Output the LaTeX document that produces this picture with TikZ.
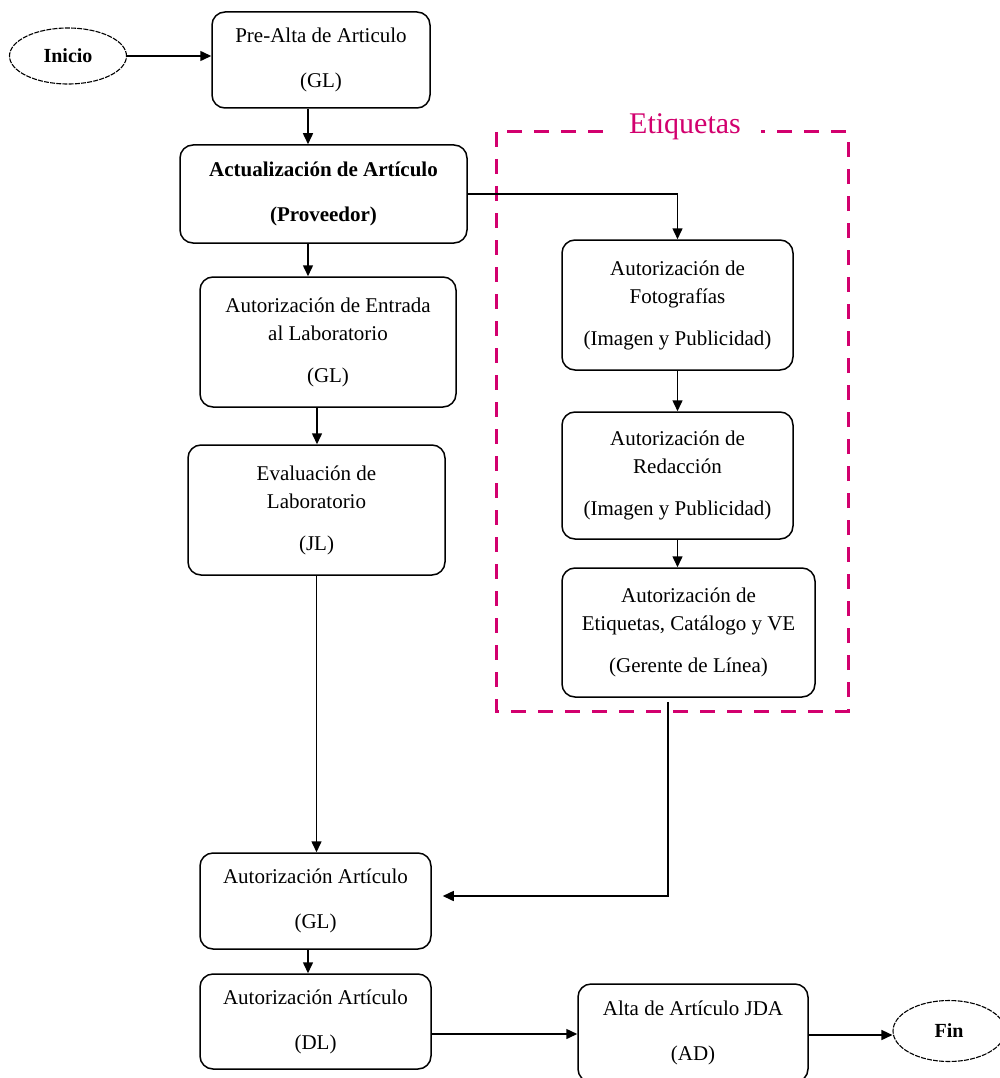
\documentclass[tikz,border=0pt]{standalone}
\usepackage{fontspec}
\setmainfont{Liberation Serif}
\usetikzlibrary{arrows.meta,shapes.geometric}
\definecolor{etqmag}{RGB}{210,0,110}
\begin{document}
\begin{tikzpicture}[x=1pt,y=1pt,
  proc/.style={draw, line width=1.5pt, rounded corners=13pt, align=center,
    inner sep=0pt, font=\fontsize{21}{28}\selectfont},
  term/.style={draw, ellipse, line width=1.1pt, dash pattern=on 5pt off 1.2pt,
    inner sep=0pt, font=\bfseries\fontsize{20}{24}\selectfont},
  arr/.style={line width=1.5pt, -{Triangle[length=11pt,width=10pt]}},
  frame/.style={draw=etqmag, line width=3pt, dash pattern=on 15pt off 12pt},
  frametitle/.style={fill=white, text=etqmag, inner xsep=20pt, inner ysep=2pt,
    font=\fontsize{30}{34}\selectfont}
]
\useasboundingbox (0,0) rectangle (999,-1078);

% group frame for the label approvals
\draw[frame] (496,-132) rectangle (848,-711);
\node[frametitle] (etqtitle) at (685,-127) {Etiquetas};

% terminals
\node[term, minimum width=117pt, minimum height=56pt] (inicio) at (68,-56) {Inicio};
\node[term, minimum width=112pt, minimum height=61pt] (fin) at (949,-1031) {Fin};

% main column
\node[proc, minimum width=218pt, minimum height=96pt] (pre) at (321,-60)
  {Pre-Alta de Articulo\\[17pt](GL)};
\node[proc, minimum width=287pt, minimum height=98pt, font=\bfseries\fontsize{21}{28}\selectfont] (act) at (323.5,-194)
  {Actualización de Artículo\\[17pt](Proveedor)};
\node[proc, minimum width=256pt, minimum height=130pt] (ent) at (328,-342)
  {Autorización de Entrada\\al Laboratorio\\[14pt](GL)};
\node[proc, minimum width=257pt, minimum height=130pt] (eval) at (316.5,-510)
  {Evaluación de\\Laboratorio\\[14pt](JL)};
\node[proc, minimum width=231pt, minimum height=96pt] (agl) at (315.5,-901)
  {Autorización Artículo\\[17pt](GL)};
\node[proc, minimum width=231pt, minimum height=95pt] (adl) at (315.5,-1021.5)
  {Autorización Artículo\\[17pt](DL)};
\node[proc, minimum width=230pt, minimum height=98pt] (alta) at (693,-1033)
  {Alta de Artículo JDA\\[17pt](AD)};

% label approvals column
\node[proc, minimum width=231pt, minimum height=130pt] (foto) at (677.5,-305)
  {Autorización de\\Fotografías\\[14pt](Imagen y Publicidad)};
\node[proc, minimum width=231pt, minimum height=127pt] (red) at (677.5,-475.5)
  {Autorización de\\Redacción\\[14pt](Imagen y Publicidad)};
\node[proc, minimum width=253pt, minimum height=129pt] (eti) at (688.5,-632.5)
  {Autorización de\\Etiquetas, Catálogo y VE\\[14pt](Gerente de Línea)};

% connectors
\draw[arr] (inicio.east) -- (inicio.east -| pre.west);
\draw[arr] ([xshift=-13pt]pre.south) -- ([xshift=-13pt]pre.south |- act.north);
\draw[arr] ([xshift=-15.5pt]act.south) -- ([xshift=-15.5pt]act.south |- ent.north);
\draw[arr] ([xshift=-11pt]ent.south) -- ([xshift=-11pt]ent.south |- eval.north);
\draw[arr] (eval.south) -- (eval.south |- agl.north);
\draw[arr] ([xshift=-7.5pt]agl.south) -- ([xshift=-7.5pt]agl.south |- adl.north);
\draw[arr] ([yshift=-12.5pt]adl.east) -- ([yshift=-12.5pt]adl.east -| alta.west);
\draw[arr] ([yshift=-2pt]alta.east) -- ([yshift=-2pt]alta.east -| fin.west);
\draw[arr] (act.east) -| (foto.north);
\draw[arr] (foto.south) -- (red.north);
\draw[arr] (red.south) -- (red.south |- eti.north);
\draw[arr] ([xshift=-20.5pt,yshift=-4pt]eti.south) |- ([xshift=11pt,yshift=5pt]agl.east);
\end{tikzpicture}
\end{document}
